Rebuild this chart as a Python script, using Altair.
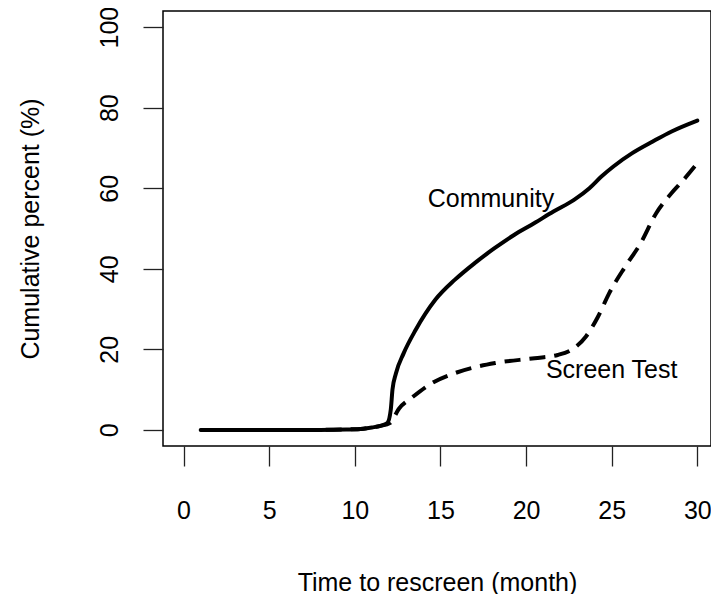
import altair as alt
import pandas as pd

# Community (solid)
comm_x = [1, 4, 8, 9.5, 10.5, 11.0, 11.5, 11.9, 12.1, 12.2, 12.4, 12.85, 13.55, 14.7, 15.85, 17.0, 18.16, 19.3, 20.47, 21.6, 22.8, 23.7, 24.4, 25.1, 26.2, 27.4, 28.5, 30]
comm_y = [0, 0, 0, 0.1, 0.3, 0.6, 1.0, 1.7, 5.0, 10.0, 14.0, 19.0, 24.8, 32.3, 37.3, 41.4, 45.1, 48.4, 51.3, 54.2, 57.1, 60.0, 62.9, 65.4, 68.7, 71.6, 74.1, 76.8]

# Screen Test (dashed)
scr_x = [1, 4, 8, 9.5, 10.5, 11.0, 11.5, 12.05, 12.6, 13.3, 14.5, 15.85, 18.2, 20.5, 21.85, 22.8, 23.5, 24.2, 24.85, 25.8, 26.7, 27.6, 28.5, 29.2, 30]
scr_y = [0, 0, 0, 0.1, 0.3, 0.6, 1.0, 1.7, 5.4, 7.9, 11.6, 14.1, 16.6, 17.8, 18.6, 20.3, 23.2, 28.1, 33.9, 40.6, 46.4, 53.8, 58.8, 62.1, 66.2]

label_text = ["Community", "Screen Test"]
label_x = [17.95, 25.0]
label_y = [55.3, 12.8]

x_ticks = [0, 5, 10, 15, 20, 25, 30]
y_ticks = [0, 20, 40, 60, 80, 100]

FONT = "Liberation Sans"
FS = 25

df = pd.concat([
    pd.DataFrame({"x": comm_x, "y": comm_y, "series": "Community"}),
    pd.DataFrame({"x": scr_x, "y": scr_y, "series": "Screen Test"}),
])
labels = pd.DataFrame({"text": label_text, "x": label_x, "y": label_y})

xscale = alt.Scale(domain=[-1.2, 30.8], nice=False, zero=False)
yscale = alt.Scale(domain=[-4, 104], nice=False, zero=False)

xaxis = alt.Axis(values=x_ticks, domain=False, grid=False, tickSize=20, tickWidth=1.3,
                 tickColor="#222", labelFont=FONT, labelFontSize=FS, labelColor="black",
                 labelBaseline="alphabetic", labelPadding=52, labelFlush=False, labelOverlap=False,
                 title="Time to rescreen (month)", titleFont=FONT, titleFontSize=FS,
                 titleFontWeight="normal", titleColor="black", titleBaseline="alphabetic", titleY=144)
yaxis = alt.Axis(values=y_ticks, domain=False, grid=False, tickSize=20, tickWidth=1.3,
                 tickColor="#222", labelFont=FONT, labelFontSize=FS, labelColor="black",
                 labelAngle=270, labelAlign="center", labelBaseline="alphabetic", labelPadding=26,
                 labelFlush=False, labelOverlap=False,
                 title="Cumulative percent (%)", titleFont=FONT, titleFontSize=FS,
                 titleFontWeight="normal", titleColor="black", titleAngle=270,
                 titleBaseline="alphabetic", titleX=-125)

base = alt.Chart(df)
solid = base.transform_filter(alt.datum.series == "Community").mark_line(
    color="black", strokeWidth=4, strokeCap="round", interpolate="monotone"
).encode(x=alt.X("x:Q", scale=xscale, axis=xaxis), y=alt.Y("y:Q", scale=yscale, axis=yaxis))

dashed = base.transform_filter(alt.datum.series == "Screen Test").mark_line(
    color="black", strokeWidth=4, strokeCap="butt", strokeDash=[16, 9], interpolate="monotone"
).encode(x=alt.X("x:Q", scale=xscale), y=alt.Y("y:Q", scale=yscale))

text = alt.Chart(labels).mark_text(font=FONT, fontSize=FS, color="black", align="center",
                                   baseline="alphabetic").encode(
    x=alt.X("x:Q", scale=xscale), y=alt.Y("y:Q", scale=yscale), text="text:N")

chart = alt.layer(solid, dashed, text).properties(
    width=548, height=435,
    autosize=alt.AutoSizeParams(type="none"),
    padding={"left": 155, "top": 3, "right": 0, "bottom": 148},
).configure_view(stroke="black", strokeWidth=1.5)

chart.save("out.html", embed_options={"renderer": "svg", "actions": False})
